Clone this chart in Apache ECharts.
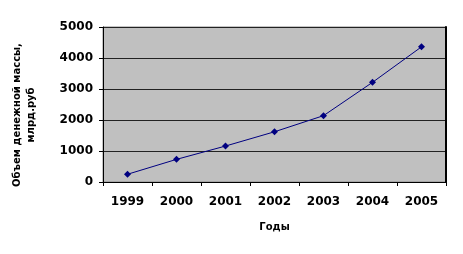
<!DOCTYPE html>
<html><head><meta charset="utf-8">
<script src="https://cdn.jsdelivr.net/npm/echarts@6/dist/echarts.min.js"></script>
<style>html,body{margin:0;padding:0;background:#fff}#c{width:463px;height:254px}</style>
</head><body><div id="c"></div>
<script>
const categories = ['1999','2000','2001','2002','2003','2004','2005'];
const values = [250, 730, 1160, 1620, 2140, 3215, 4360];
const yTitle = 'Объем денежной массы,\nмлрд.руб';
const xTitle = 'Годы';
const chart = echarts.init(document.getElementById('c'));
chart.setOption({
  animation:false,
  backgroundColor:'#ffffff',
  grid:{left:103,top:27,width:343,height:155,show:true,backgroundColor:'#c0c0c0',borderColor:'#8a8a8a',borderWidth:1},
  xAxis:{type:'category',data:categories,boundaryGap:true,
    axisLine:{lineStyle:{color:'#000',width:1}},
    axisTick:{show:true,alignWithLabel:false,length:4,lineStyle:{color:'#000'}},
    axisLabel:{color:'#000',fontFamily:'DejaVu Sans',fontSize:12,fontWeight:'bold',margin:14},
    name:xTitle,nameLocation:'middle',nameGap:40,
    nameTextStyle:{color:'#000',fontFamily:'DejaVu Sans',fontSize:10,fontWeight:'bold'}},
  yAxis:[{type:'value',min:0,max:5000,interval:1000,
    axisLine:{show:true,lineStyle:{color:'#000',width:1}},
    axisTick:{show:true,length:4,lineStyle:{color:'#000'}},
    splitLine:{show:true,lineStyle:{color:'#222',width:1}},
    axisLabel:{color:'#000',fontFamily:'DejaVu Sans',fontSize:12,fontWeight:'bold',margin:10,formatter:v=>String(v)}},
    {type:'value',min:0,max:5000,interval:1000,position:'right',
    axisLine:{show:true,lineStyle:{color:'#000',width:2}},
    axisTick:{show:false},splitLine:{show:false},axisLabel:{show:false}}],
  graphic:[{type:'text',x:24,y:115,rotation:Math.PI/2,
    style:{text:yTitle,fill:'#000',font:'bold 10px "DejaVu Sans"',align:'center',verticalAlign:'middle',lineHeight:14}}],
  series:[{type:'line',data:values,symbol:'diamond',symbolSize:7,
    lineStyle:{color:'#000080',width:1},itemStyle:{color:'#000080'}}]
});
</script></body></html>
